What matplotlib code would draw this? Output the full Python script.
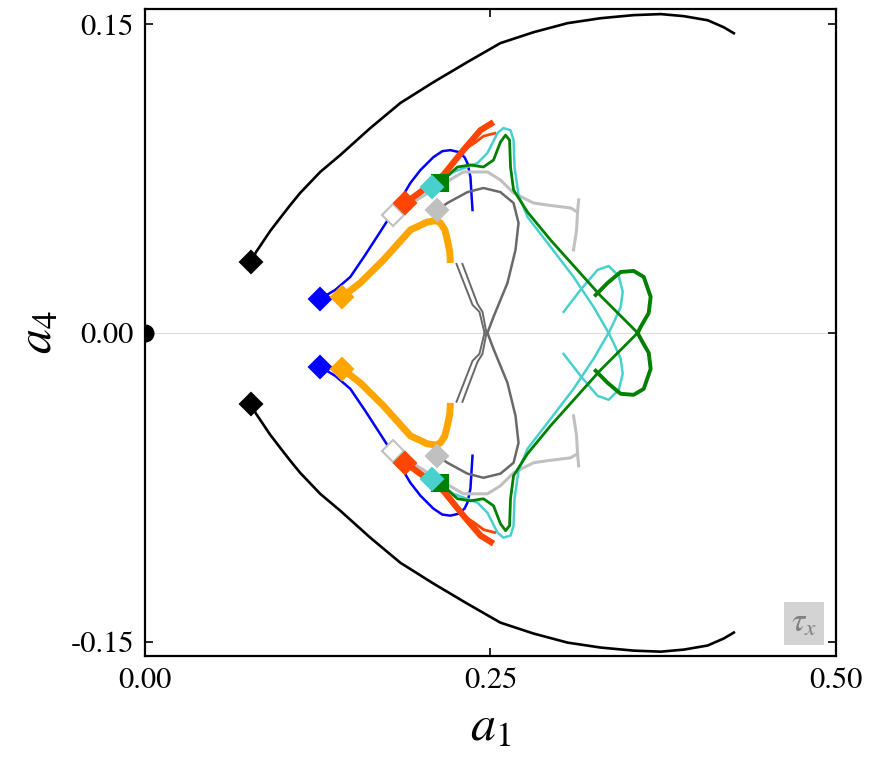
import matplotlib
matplotlib.use('Agg')
import matplotlib.pyplot as plt

plt.rcParams['font.family'] = ['STIXGeneral', 'DejaVu Serif']
plt.rcParams['mathtext.fontset'] = 'stix'
plt.rcParams['axes.unicode_minus'] = False

x_ticks = [0.0, 0.25, 0.5]
x_tick_labels = ['0.00', '0.25', '0.50']
y_ticks = [-0.15, 0.0, 0.15]
y_tick_labels = ['-0.15', '0.00', '0.15']

# Upper-half branches (a1, a4); the lower half is the mirror image a4 -> -a4
black_a1 = [0.0768, 0.0804, 0.0848, 0.0906, 0.0978, 0.1051, 0.1123, 0.1268, 0.1413, 0.1630, 0.1848,
            0.2087, 0.2333, 0.2572, 0.2812, 0.3058, 0.3297, 0.3536, 0.3732, 0.3899, 0.4072, 0.4188, 0.4261]
black_a4 = [0.0345, 0.0393, 0.0437, 0.0495, 0.0558, 0.0621, 0.0680, 0.0782, 0.0864, 0.0995, 0.1117,
            0.1218, 0.1316, 0.1408, 0.1461, 0.1505, 0.1529, 0.1544, 0.1549, 0.1539, 0.1519, 0.1485, 0.1456]

blue_a1 = [0.1268, 0.1377, 0.1486, 0.1594, 0.1725, 0.1826, 0.1920, 0.1993, 0.2087, 0.2152, 0.2210,
           0.2268, 0.2312, 0.2333, 0.2355, 0.2362, 0.2370]
blue_a4 = [0.0165, 0.0209, 0.0272, 0.0379, 0.0515, 0.0621, 0.0728, 0.0791, 0.0854, 0.0883, 0.0888,
           0.0879, 0.0854, 0.0825, 0.0757, 0.0680, 0.0597]

orange_a1 = [0.1428, 0.1558, 0.1725, 0.1920, 0.2043, 0.2105, 0.2138, 0.2170, 0.2188, 0.2205, 0.2210]
orange_a4 = [0.0175, 0.0243, 0.0354, 0.0500, 0.0539, 0.0545, 0.0534, 0.0500, 0.0451, 0.0395, 0.0340]

red_a1 = [0.1884, 0.2159, 0.2304, 0.2428, 0.2522]
red_a4 = [0.0631, 0.0767, 0.0888, 0.0985, 0.1024]
red2_a1 = [0.2304, 0.2380, 0.2450, 0.2530]
red2_a4 = [0.0888, 0.0921, 0.0956, 0.0970]

turq_a1 = [0.2080, 0.2232, 0.2406, 0.2478, 0.2551, 0.2594, 0.2645, 0.2667, 0.2674, 0.2703, 0.2768, 0.2913, 0.3101, 0.3246, 0.3355]
turq_a4 = [0.0709, 0.0782, 0.0825, 0.0874, 0.0971, 0.0995, 0.0985, 0.0937, 0.0806, 0.0670, 0.0563, 0.0437, 0.0272, 0.0126, 0.0]
turq_loop_a1 = [0.3029, 0.3152, 0.3275, 0.3355, 0.3428, 0.3457, 0.3442, 0.3391, 0.3355]
turq_loop_a4 = [0.0102, 0.0209, 0.0306, 0.0325, 0.0277, 0.0199, 0.0126, 0.0049, 0.0]

green_a1 = [0.2138, 0.2261, 0.2355, 0.2449, 0.2522, 0.2572, 0.2609, 0.2638, 0.2645, 0.2667, 0.2768, 0.2935, 0.3174, 0.3297, 0.3565]
green_a4 = [0.0733, 0.0806, 0.0816, 0.0806, 0.0840, 0.0927, 0.0961, 0.0937, 0.0806, 0.0694, 0.0587, 0.0451, 0.0272, 0.0180, 0.0]
green_loop_a1 = [0.3261, 0.3348, 0.3442, 0.3536, 0.3609, 0.3659, 0.3645, 0.3587, 0.3565]
green_loop_a4 = [0.0184, 0.0243, 0.0296, 0.0301, 0.0272, 0.0175, 0.0097, 0.0029, 0.0]

silver_a1 = [0.1797, 0.2080, 0.2304, 0.2478, 0.2572, 0.2667, 0.2812, 0.2913, 0.3080, 0.3130, 0.3138]
silver_a4 = [0.0573, 0.0694, 0.0782, 0.0782, 0.0743, 0.0680, 0.0631, 0.0621, 0.0607, 0.0587, 0.0646]
silver_hook_a1 = [0.3130, 0.3123, 0.3101]
silver_hook_a4 = [0.0587, 0.0500, 0.0403]

dgray_a1 = [0.2116, 0.2188, 0.2333, 0.2449, 0.2572, 0.2667, 0.2703, 0.2681, 0.2623, 0.2522, 0.2478]
dgray_a4 = [0.0597, 0.0631, 0.0684, 0.0704, 0.0684, 0.0631, 0.0534, 0.0403, 0.0243, 0.0078, 0.0]
dgray_a_a1 = [0.2254, 0.2370, 0.2420, 0.2457]
dgray_a_a4 = [0.0335, 0.0136, 0.0102, 0.0]
dgray_b_a1 = [0.2297, 0.2406, 0.2442, 0.2471]
dgray_b_a4 = [0.0335, 0.0141, 0.0102, 0.0]

# Start markers (upper half; mirrored below)
markers = [
    # (a1, a4, marker, face, edge)
    (0.0768, 0.0345, 'D', 'black', 'black'),
    (0.1268, 0.0165, 'D', 'blue', 'blue'),
    (0.1428, 0.0175, 'D', 'orange', 'orange'),
    (0.1797, 0.0573, 'D', 'white', 'silver'),
    (0.1884, 0.0631, 'D', 'orangered', 'orangered'),
    (0.2138, 0.0728, 's', 'green', 'green'),
    (0.2080, 0.0709, 'D', 'mediumturquoise', 'mediumturquoise'),
    (0.2116, 0.0597, 'D', 'silver', 'silver'),
]

fig = plt.figure(figsize=(8.75, 7.65), dpi=100)
ax = fig.add_axes([0.1657, 0.1425, 0.7897, 0.8458])

ax.axhline(0.0, color='#dddddd', lw=0.8, zorder=0)


def both(xs, ys, **kw):
    ax.plot(xs, ys, **kw)
    ax.plot(xs, [-v for v in ys], **kw)


both(black_a1, black_a4, color='black', lw=1.9)
both(blue_a1, blue_a4, color='blue', lw=1.8)
both(silver_a1, silver_a4, color='silver', lw=2.2)
both(silver_hook_a1, silver_hook_a4, color='silver', lw=2.2)
both(dgray_a1, dgray_a4, color='dimgray', lw=1.8)
both(dgray_a_a1, dgray_a_a4, color='dimgray', lw=1.4)
both(dgray_b_a1, dgray_b_a4, color='dimgray', lw=1.4)
both(turq_a1, turq_a4, color='mediumturquoise', lw=1.8)
both(turq_loop_a1, turq_loop_a4, color='mediumturquoise', lw=1.8)
both(green_a1, green_a4, color='green', lw=2.0)
both(green_loop_a1, green_loop_a4, color='green', lw=2.8)
both(orange_a1, orange_a4, color='orange', lw=5, solid_capstyle='butt')
both(red_a1, red_a4, color='orangered', lw=4.5, solid_capstyle='butt')
both(red2_a1, red2_a4, color='orangered', lw=2.0)

for (mx, my, mk, fc, ec) in markers:
    ax.plot([mx, mx], [my, -my], ls='none', marker=mk, ms=11,
            markerfacecolor=fc, markeredgecolor=ec, markeredgewidth=1.5, zorder=5)

ax.plot([0.0], [0.0], 'o', color='black', ms=12, zorder=5, clip_on=True)

ax.set_xlim(0.0, 0.5)
ax.set_ylim(-0.157, 0.1574)
ax.set_xticks(x_ticks)
ax.set_xticklabels(x_tick_labels)
ax.set_yticks(y_ticks)
ax.set_yticklabels(y_tick_labels)
ax.tick_params(direction='in', top=True, right=True, length=6, width=1.2,
               labelsize=22, pad=8)
for s in ax.spines.values():
    s.set_linewidth(1.6)

ax.set_xlabel(r'$a_1$', fontsize=36, labelpad=8)
ax.set_ylabel(r'$a_4$', fontsize=36, labelpad=6)

ax.text(0.954, 0.05, r'$\tau_x$', transform=ax.transAxes, fontsize=24,
        color='gray', ha='center', va='center',
        bbox=dict(boxstyle='square,pad=0.2', facecolor='lightgray', edgecolor='none'))

fig.savefig('out.png', dpi=100)
